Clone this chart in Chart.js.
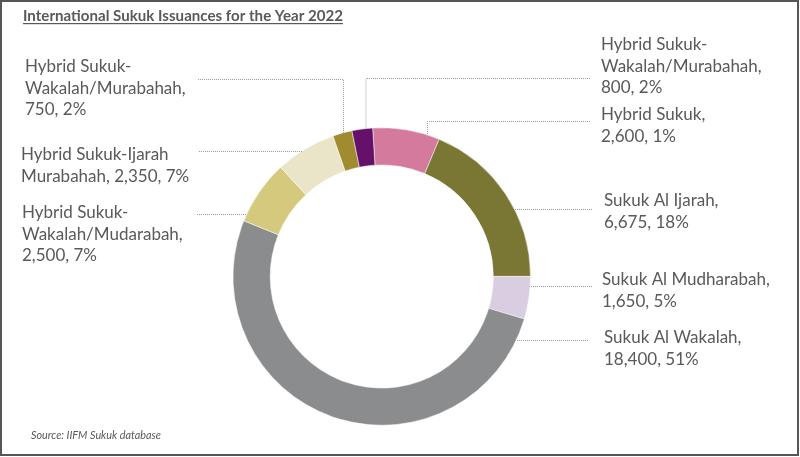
<!DOCTYPE html>
<html>
<head>
<meta charset="utf-8">
<script src="https://cdn.jsdelivr.net/npm/chart.js@4"></script>
<style>
  html, body { margin: 0; padding: 0; background: #fff; }
  #wrap { width: 800px; height: 457px; }
</style>
</head>
<body>
<div id="wrap"><canvas id="sukukChart" width="800" height="457"></canvas></div>
<script>
// data
const categories = [
    'Hybrid Sukuk',
    'Sukuk Al Ijarah',
    'Sukuk Al Mudharabah',
    'Sukuk Al Wakalah',
    'Hybrid Sukuk-Wakalah/Mudarabah',
    'Hybrid Sukuk-Ijarah Murabahah',
    'Hybrid Sukuk-Wakalah/Murabahah',
    'Hybrid Sukuk-Wakalah/Murabahah'
];
const values = [2600, 6675, 1650, 18400, 2500, 2350, 750, 800];
const shares = ['1%', '18%', '5%', '51%', '7%', '7%', '2%', '2%'];
const colors = ['#D47A9C', '#7A7734', '#D8CDE1', '#8B8C8E', '#D4C97C', '#EAE5C9', '#A08B31', '#661169'];

const TEXT = '#58595B';
const fmt = v => v.toLocaleString('en-US');

// label placement: text lines, text start, leader line (from label to ring)
const labelLayout = [
    { x: 601, y: 120, lines: (c, v, p) => [c + ',', fmt(v) + ', ' + p], lead: { y: 121, x0: 590, bendX: 427 } },
    { x: 604, y: 206, lines: (c, v, p) => [c + ',', fmt(v) + ', ' + p], lead: { y: 209, x0: 592, side: 1 } },
    { x: 602, y: 285, lines: (c, v, p) => [c + ',', fmt(v) + ', ' + p], lead: { y: 286, x0: 592, side: 1 } },
    { x: 604, y: 343, lines: (c, v, p) => [c + ',', fmt(v) + ', ' + p], lead: { y: 340, x0: 588, side: 1 } },
    { x: 22, y: 218, lines: (c, v, p) => ['Hybrid Sukuk-', 'Wakalah/Mudarabah,', fmt(v) + ', ' + p], lead: { y: 214, x0: 197, side: -1 } },
    { x: 21, y: 160, lines: (c, v, p) => ['Hybrid Sukuk-Ijarah', 'Murabahah, ' + fmt(v) + ', ' + p], lead: { y: 151, x0: 199, side: -1 } },
    { x: 25, y: 72, lines: (c, v, p) => ['Hybrid Sukuk-', 'Wakalah/Murabahah,', fmt(v) + ', ' + p], lead: { y: 79, x0: 198, bendX: 343 } },
    { x: 601, y: 50, lines: (c, v, p) => ['Hybrid Sukuk-', 'Wakalah/Murabahah,', fmt(v) + ', ' + p], lead: { y: 78, x0: 590, bendX: 365.5 } }
];

// narrow text: draw at the given size, squeezed to the wanted width
function narrowText(ctx, text, font, x, y, width) {
    ctx.save();
    ctx.font = font;
    const sx = width / ctx.measureText(text).width;
    ctx.translate(x, y);
    ctx.scale(sx, 1);
    ctx.fillText(text, 0, 0);
    ctx.restore();
}

const decorations = {
    id: 'decorations',
    afterDraw(chart) {
        const ctx = chart.ctx;
        const arc = chart.getDatasetMeta(0).data[0];
        const cx = arc.x, cy = arc.y, R = arc.outerRadius;

        ctx.save();
        // frame
        ctx.strokeStyle = '#555';
        ctx.lineWidth = 2;
        ctx.strokeRect(1, 1, 797, 454);

        // title
        ctx.fillStyle = TEXT;
        ctx.textBaseline = 'alphabetic';
        narrowText(ctx, 'International Sukuk Issuances for the Year 2022', 'bold 16px Lato, sans-serif', 23, 21, 320);
        ctx.fillRect(23, 23, 320, 1.2);

        // source
        narrowText(ctx, 'Source: IIFM Sukuk database', 'italic 11px Lato, sans-serif', 31, 439, 130);

        // leader lines
        ctx.strokeStyle = '#9A9A9A';
        ctx.lineWidth = 1;
        ctx.setLineDash([1, 1]);
        labelLayout.forEach(l => {
            const d = l.lead;
            ctx.beginPath();
            ctx.moveTo(d.x0, d.y + 0.5);
            if (d.bendX !== undefined) {
                const yEnd = cy - Math.sqrt(R * R - (d.bendX - cx) ** 2);
                ctx.lineTo(d.bendX + 0.5, d.y + 0.5);
                ctx.lineTo(d.bendX + 0.5, yEnd);
            } else {
                const xEnd = cx + d.side * Math.sqrt(R * R - (d.y - cy) ** 2);
                ctx.lineTo(xEnd, d.y + 0.5);
            }
            ctx.stroke();
        });
        ctx.setLineDash([]);

        // labels
        ctx.fillStyle = TEXT;
        ctx.font = '17px Lato, "Open Sans", sans-serif';
        labelLayout.forEach((l, i) => {
            l.lines(categories[i], values[i], shares[i]).forEach((t, k) => {
                ctx.fillText(t, l.x, l.y + k * 21.5);
            });
        });
        ctx.restore();
    }
};

const ctx = document.getElementById('sukukChart').getContext('2d');
new Chart(ctx, {
    type: 'doughnut',
    data: {
        labels: categories,
        datasets: [{
            data: values,
            backgroundColor: colors,
            borderColor: '#ffffff',
            borderWidth: 0.5
        }]
    },
    options: {
        responsive: false,
        animation: false,
        cutout: '75%',
        rotation: -3.5,
        layout: {
            padding: { left: 232.5, right: 269, top: 127.5, bottom: 31.5 }
        },
        plugins: {
            legend: { display: false },
            tooltip: { enabled: false }
        }
    },
    plugins: [decorations]
});
</script>
</body>
</html>
